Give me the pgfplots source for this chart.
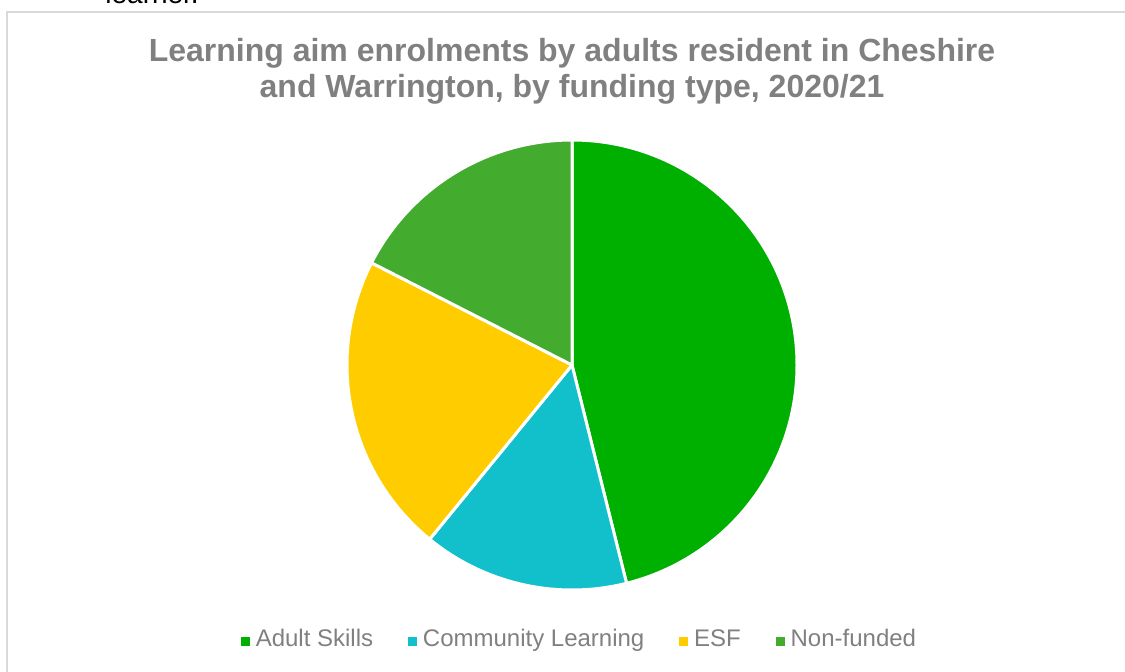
\documentclass[border=0pt]{standalone}
\usepackage{pgfplots}
\pgfplotsset{compat=1.18}
\usepackage{fontspec}
\setmainfont{Liberation Sans}
\definecolor{cAS}{RGB}{0,176,0}
\definecolor{cCL}{RGB}{18,192,204}
\definecolor{cESF}{RGB}{255,204,0}
\definecolor{cNF}{RGB}{67,172,47}
\definecolor{txtgray}{RGB}{128,128,128}
\definecolor{framegray}{RGB}{217,217,217}
\begin{document}
\begin{tikzpicture}
\useasboundingbox (0,0) rectangle (562.5pt,335.5pt);
\clip (0,0) rectangle (562.5pt,335.5pt);
% the axis spans the whole 1125x671 px canvas, 1 unit = 1 px, y measured upward from -671
\begin{axis}[
  x=0.5pt, y=0.5pt, xmin=0, xmax=1125, ymin=-671, ymax=0,
  hide axis, scale only axis, anchor=south west, at={(0,0)}, clip=false,
  legend columns=4,
  legend style={draw=none, fill=none, at={(0.516,0.0447)}, anchor=center,
    font=\fontsize{12}{14}\selectfont, text=txtgray,
    nodes={text depth=0.22em, text height=0.72em},
    /tikz/every even column/.append style={column sep=15.5pt},
    /tikz/every odd column/.append style={column sep=1pt}},
  legend image code/.code={\fill[#1] (0pt,-2pt) rectangle (4pt,2pt);},
]
\addlegendimage{cAS}\addlegendentry{Adult Skills}
\addlegendimage{cCL}\addlegendentry{Community Learning}
\addlegendimage{cESF}\addlegendentry{ESF}
\addlegendimage{cNF}\addlegendentry{Non-funded}
\node[anchor=base west, font=\fontsize{14}{16}\selectfont, inner sep=0pt] at (axis cs:105,-4) {learner.};
\draw[framegray, line width=0.75pt] (axis cs:7,-700) -- (axis cs:7,-12) -- (axis cs:1140,-12);
\node[font=\bfseries\fontsize{16}{18}\selectfont, text=txtgray, align=center, anchor=base, inner sep=0pt]
  at (axis cs:572,-98) {Learning aim enrolments by adults resident in Cheshire\\and Warrington, by funding type, 2020/21};
% shares in per cent, clockwise from 12 o'clock
\def\s{90}
\foreach \v/\c in {46.1/cAS, 14.8/cCL, 21.6/cESF, 17.5/cNF} {
  \pgfmathsetmacro\e{\s-3.6*\v}
  \pgfmathsetmacro\px{572+225*cos(\s)}
  \pgfmathsetmacro\py{-365+225*sin(\s)}
  \edef\cmd{\noexpand\filldraw[fill=\c, draw=white, line width=1.5pt, line join=round]
    (axis cs:572,-365) -- (axis cs:\px,\py) arc[start angle=\s, end angle=\e, radius=112.5pt] -- cycle;}
  \cmd
  \xdef\s{\e}
}
\end{axis}
\end{tikzpicture}
\end{document}
